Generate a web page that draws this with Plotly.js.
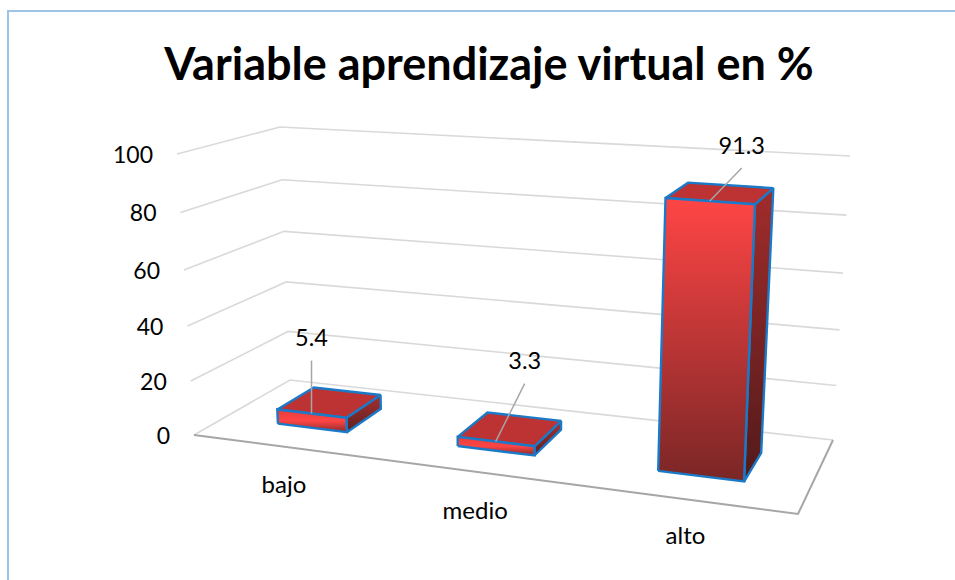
<!DOCTYPE html>
<html>
<head>
<meta charset="utf-8">
<script src="https://cdn.plot.ly/plotly-3.0.1.min.js"></script>
<style>html,body{margin:0;padding:0;background:#fff}</style>
</head>
<body>
<div id="chart" style="width:955px;height:580px"></div>
<script>
// --- data
var titleText = 'Variable aprendizaje virtual en %';
var categories = ['bajo', 'medio', 'alto'];
var values = [5.4, 3.3, 91.3];
var valueLabels = ['5.4', '3.3', '91.3'];
var tickValues = [0, 20, 40, 60, 80, 100];
var axisMax = 100;

// --- the drawing's 3-D box as seen on the page: front-left, front-right, back-right, back-left
var floorQuad = [[194, 435], [798, 514], [833, 440], [290, 380]];
var topQuad = [[177, 154], [812, 195], [850, 156], [280, 127]];
var barHalfWidth = 0.066, barShift = 0.004, barD0 = 0.3, barD1 = 0.7;
var labelOffsets = [[0, -73], [29, -78], [32, -53]];
var categoryOffsets = [[56, 6], [48, 3], [33, -4]];
var FONT = 'Lato, Carlito, Calibri, sans-serif';

function homography(q) {
  var x0=q[0][0],y0=q[0][1],x1=q[1][0],y1=q[1][1],x2=q[2][0],y2=q[2][1],x3=q[3][0],y3=q[3][1];
  var dx1=x1-x2,dx2=x3-x2,sx=x0-x1+x2-x3,dy1=y1-y2,dy2=y3-y2,sy=y0-y1+y2-y3;
  var den=dx1*dy2-dx2*dy1;
  var g=(sx*dy2-dx2*sy)/den,h=(dx1*sy-sx*dy1)/den;
  var a=x1-x0+g*x1,b=x3-x0+h*x3,c=x0,d=y1-y0+g*y1,e=y3-y0+h*y3,f=y0;
  return function(t,s){var w=g*t+h*s+1;return [(a*t+b*s+c)/w,(d*t+e*s+f)/w];};
}
var Hf = homography(floorQuad);
var riseAt = floorQuad.map(function(f,i){return [topQuad[i][0]-f[0],topQuad[i][1]-f[1]];});
function heightFrac(v){var w=v/axisMax,a=0.95;return a*w/(1+(a-1)*w);}
function P(t,d,v){
  var A=Hf(t,d),k=heightFrac(v);
  var w0=(1-t)*(1-d),w1=t*(1-d),w2=t*d,w3=(1-t)*d;
  return [A[0]+k*(w0*riseAt[0][0]+w1*riseAt[1][0]+w2*riseAt[2][0]+w3*riseAt[3][0]),
          A[1]+k*(w0*riseAt[0][1]+w1*riseAt[1][1]+w2*riseAt[2][1]+w3*riseAt[3][1])];
}
function xs(p){return p.map(function(q){return q[0];});}
function ys(p){return p.map(function(q){return q[1];});}
function line(p,color,width){
  return {type:'scatter',mode:'lines',x:xs(p),y:ys(p),line:{color:color,width:width},hoverinfo:'skip',showlegend:false};
}
function face(p,colors){
  var tr={type:'scatter',mode:'lines',x:xs(p.concat([p[0]])),y:ys(p.concat([p[0]])),fill:'toself',
    line:{color:'#1a7ac8',width:2.4},hoverinfo:'skip',showlegend:false};
  if(colors.length===1){tr.fillcolor=colors[0];}
  else{
    var yy=ys(p);
    tr.fillgradient={type:'vertical',start:Math.min.apply(null,yy),stop:Math.max.apply(null,yy),
      colorscale:colors.map(function(c,i){return [i/(colors.length-1),c];})};
  }
  return tr;
}

var traces=[];
// walls
tickValues.forEach(function(v){
  traces.push(line([P(0,0,v),P(0,1,v),P(1,1,v)],'#d9d9d9',1.6));
});
// floor front and right edges
traces.push(line([P(0,0,0),P(1,0,0),P(1,1,0)],'#a6a6a6',2));

// bars
categories.forEach(function(c,i){
  var tc=(i+0.5)/categories.length+barShift, t0=tc-barHalfWidth, t1=tc+barHalfWidth, v=values[i];
  var tall=v>20;
  traces.push(face([P(t1,barD0,0),P(t1,barD1,0),P(t1,barD1,v),P(t1,barD0,v)],
    tall?['#a12c2c','#521a1a']:['#a83030','#5c2020']));
  traces.push(face([P(t0,barD0,v),P(t1,barD0,v),P(t1,barD1,v),P(t0,barD1,v)],['#bd3333']));
  traces.push(face([P(t0,barD0,0),P(t1,barD0,0),P(t1,barD0,v),P(t0,barD0,v)],
    tall?['#ff4545','#7a2626']:['#e83c3c','#ff4545','#8a2a2a']));
  // leader and value label
  var a=P(tc,barD0,v), o=labelOffsets[i];
  traces.push(line([[a[0]+o[0],a[1]+o[1]+20],a],'#a6a6a6',1.5));
  traces.push({type:'scatter',mode:'text',x:[a[0]+o[0]],y:[a[1]+o[1]],text:[valueLabels[i]],textposition:'middle center',
    textfont:{family:FONT,size:23.5,color:'#000'},hoverinfo:'skip',showlegend:false});
  // category label
  var b=P((i+0.5)/categories.length,-0.5,0), co=categoryOffsets[i];
  traces.push({type:'scatter',mode:'text',x:[b[0]+co[0]],y:[b[1]+co[1]],text:[c],textposition:'middle center',
    textfont:{family:FONT,size:24,color:'#000'},hoverinfo:'skip',showlegend:false});
});
// value axis labels follow the slanted left wall
var tp=tickValues.map(function(v){var p=P(0,0,v);return [p[0]-24,p[1]+3];});
traces.push({type:'scatter',mode:'text',x:xs(tp),y:ys(tp),text:tickValues.map(String),textposition:'middle left',
  textfont:{family:FONT,size:23,color:'#000'},hoverinfo:'skip',showlegend:false});

var layout={
  width:955,height:580,margin:{l:0,r:0,t:0,b:0},
  paper_bgcolor:'#fff',plot_bgcolor:'#fff',showlegend:false,
  title:{text:'<b>'+titleText+'</b>',x:489/955,xanchor:'center',y:1-64/580,yanchor:'middle',font:{family:FONT,size:45,color:'#000'}},
  xaxis:{range:[0,955],visible:false,fixedrange:true},
  yaxis:{range:[580,0],visible:false,fixedrange:true},
  shapes:[{type:'path',path:'M 8 580 L 8 11 L 955 11',line:{color:'#9dc3e6',width:2},xref:'x',yref:'y',layer:'below'}]
};
Plotly.newPlot('chart',traces,layout,{displayModeBar:false,staticPlot:true});
</script>
</body>
</html>
